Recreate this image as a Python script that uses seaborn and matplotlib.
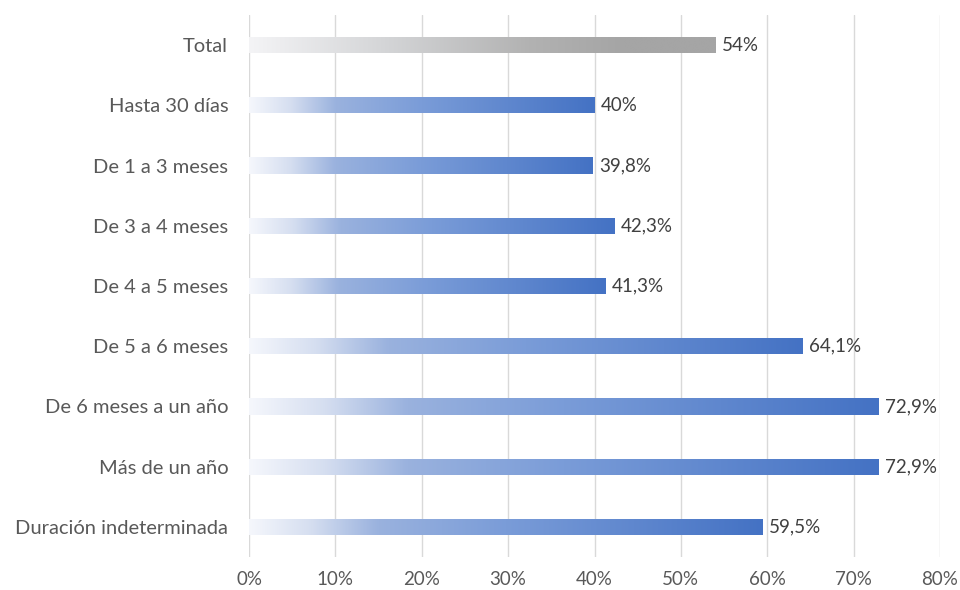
import numpy as np
import pandas as pd
import matplotlib
matplotlib.use("Agg")
import matplotlib.pyplot as plt
from matplotlib.colors import LinearSegmentedColormap
import seaborn as sns

categories = ["Total", "Hasta 30 días", "De 1 a 3 meses", "De 3 a 4 meses",
              "De 4 a 5 meses", "De 5 a 6 meses", "De 6 meses a un año",
              "Más de un año", "Duración indeterminada"]
values = [54, 40, 39.8, 42.3, 41.3, 64.1, 72.9, 72.9, 59.5]
value_labels = ["54%", "40%", "39,8%", "42,3%", "41,3%", "64,1%", "72,9%", "72,9%", "59,5%"]
tick_values = [0, 10, 20, 30, 40, 50, 60, 70, 80]
tick_labels = ["0%", "10%", "20%", "30%", "40%", "50%", "60%", "70%", "80%"]

sns.set_theme(style="white")
plt.rcParams['font.family'] = ['Lato', 'DejaVu Sans']

df = pd.DataFrame({"cat": categories, "val": values})

fig = plt.figure(figsize=(9.6, 5.9), dpi=100)
ax = fig.add_axes([249/960, 1-557/590, (940-249)/960, (557-15)/590])

sns.barplot(data=df, y="cat", x="val", orient="h", ax=ax, color="#4472C4",
            width=0.27, order=categories)

blue_cmap = LinearSegmentedColormap.from_list(
    "bl", [(0, "#F5F7FC"), (0.12, "#D5DEF0"), (0.25, "#9AB2DE"), (0.5, "#7A9CD8"), (1.0, "#4472C4")])
grey_cmap = LinearSegmentedColormap.from_list(
    "gr", [(0, "#F4F4F6"), (0.3, "#D3D4D6"), (0.6, "#B2B2B2"), (0.8, "#A5A5A5"), (1.0, "#A5A5A5")])

grad = np.linspace(0, 1, 256).reshape(1, -1)
for i, p in enumerate(ax.patches):
    x0, y0 = p.get_x(), p.get_y()
    w, h = p.get_width(), p.get_height()
    cmap = grey_cmap if categories[i] == "Total" else blue_cmap
    im = ax.imshow(grad, cmap=cmap, aspect="auto",
                   extent=[x0, x0 + w, y0 + h, y0], zorder=3, interpolation="bicubic")
    im.set_clip_path(p)
    p.set_facecolor("none")
    p.set_edgecolor("none")
    ax.text(x0 + w + 0.7, y0 + h / 2, value_labels[i], va="center", ha="left",
            fontsize=13.5, color="#404040", zorder=4)

ax.set_xlim(0, 80)
ax.set_ylim(len(categories) - 0.5, -0.5)
ax.set_xticks(tick_values)
ax.set_xticklabels(tick_labels)
ax.set_xlabel("")
ax.set_ylabel("")
ax.xaxis.grid(True, color="#D9D9D9", linewidth=1)
ax.set_axisbelow(True)
for s in ax.spines.values():
    s.set_visible(False)
ax.tick_params(axis="x", colors="#595959", labelsize=13.5, length=0, pad=10)
ax.tick_params(axis="y", colors="#595959", labelsize=14.5, length=0, pad=15)

fig.savefig("out.png", dpi=100)
